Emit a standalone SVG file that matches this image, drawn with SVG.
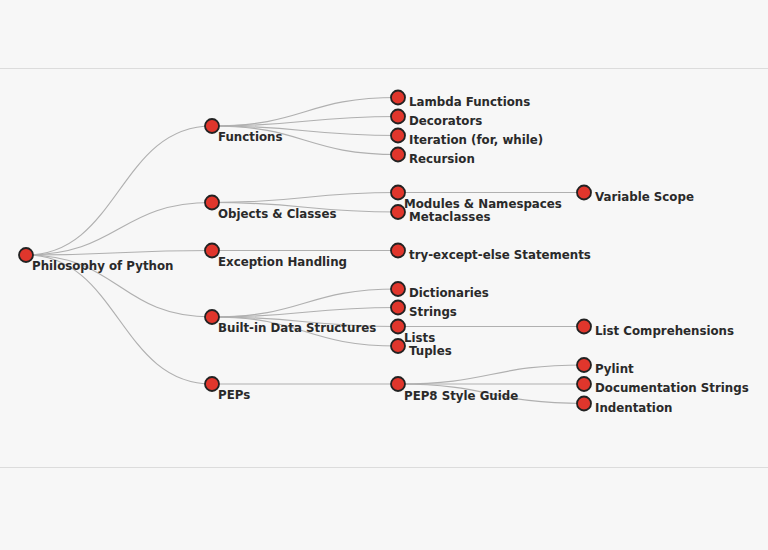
<svg xmlns="http://www.w3.org/2000/svg" width="768" height="550" viewBox="0 0 768 550">
<style>
.bg{fill:#f7f7f7}
.rule{stroke:#dcdcdc;stroke-width:1}
.link{fill:none;stroke:#b0b0b0;stroke-width:1.2}
.node circle{fill:#e0362c;stroke:#222;stroke-width:1.8}
.node text{font-family:"DejaVu Sans",Verdana,sans-serif;font-weight:bold;font-size:11.8px;fill:#2a2a2a}
</style>
<rect class="bg" x="0" y="0" width="768" height="550"/>
<line class="rule" x1="0" y1="68.5" x2="768" y2="68.5"/>
<line class="rule" x1="0" y1="467.5" x2="768" y2="467.5"/>
<g id="links">
<path class="link" d="M26,255 C119,255 119,126 212,126"/>
<path class="link" d="M26,255 C119,255 119,202.5 212,202.5"/>
<path class="link" d="M26,255 C119,255 119,250.5 212,250.5"/>
<path class="link" d="M26,255 C119,255 119,317 212,317"/>
<path class="link" d="M26,255 C119,255 119,384 212,384"/>
<path class="link" d="M212,126 C305,126 305,97.5 398,97.5"/>
<path class="link" d="M212,126 C305,126 305,116.5 398,116.5"/>
<path class="link" d="M212,126 C305,126 305,135.5 398,135.5"/>
<path class="link" d="M212,126 C305,126 305,154.5 398,154.5"/>
<path class="link" d="M212,202.5 C305,202.5 305,192.5 398,192.5"/>
<path class="link" d="M212,202.5 C305,202.5 305,212 398,212"/>
<path class="link" d="M212,250.5 C305,250.5 305,250.5 398,250.5"/>
<path class="link" d="M212,317 C305,317 305,289 398,289"/>
<path class="link" d="M212,317 C305,317 305,307.5 398,307.5"/>
<path class="link" d="M212,317 C305,317 305,326.5 398,326.5"/>
<path class="link" d="M212,317 C305,317 305,346 398,346"/>
<path class="link" d="M212,384 C305,384 305,384 398,384"/>
<path class="link" d="M398,192.5 C491,192.5 491,192.5 584,192.5"/>
<path class="link" d="M398,326.5 C491,326.5 491,326.5 584,326.5"/>
<path class="link" d="M398,384 C491,384 491,365 584,365"/>
<path class="link" d="M398,384 C491,384 491,384 584,384"/>
<path class="link" d="M398,384 C491,384 491,403.5 584,403.5"/>
</g>
<g id="n-root" class="node"><circle cx="26" cy="255" r="7"/><text x="32" y="270">Philosophy of Python</text></g>
<g id="n-functions" class="node"><circle cx="212" cy="126" r="7"/><text x="218" y="141">Functions</text></g>
<g id="n-objects" class="node"><circle cx="212" cy="202.5" r="7"/><text x="218" y="217.5">Objects &amp; Classes</text></g>
<g id="n-exception" class="node"><circle cx="212" cy="250.5" r="7"/><text x="218" y="265.5">Exception Handling</text></g>
<g id="n-builtin" class="node"><circle cx="212" cy="317" r="7"/><text x="218" y="332">Built-in Data Structures</text></g>
<g id="n-peps" class="node"><circle cx="212" cy="384" r="7"/><text x="218" y="399">PEPs</text></g>
<g id="n-lambda" class="node"><circle cx="398" cy="97.5" r="7"/><text x="409" y="105.5">Lambda Functions</text></g>
<g id="n-decorators" class="node"><circle cx="398" cy="116.5" r="7"/><text x="409" y="124.5">Decorators</text></g>
<g id="n-iteration" class="node"><circle cx="398" cy="135.5" r="7"/><text x="409" y="143.5">Iteration (for, while)</text></g>
<g id="n-recursion" class="node"><circle cx="398" cy="154.5" r="7"/><text x="409" y="162.5">Recursion</text></g>
<g id="n-modules" class="node"><circle cx="398" cy="192.5" r="7"/><text x="404" y="208">Modules &amp; Namespaces</text></g>
<g id="n-metaclasses" class="node"><circle cx="398" cy="212" r="7"/><text x="409" y="220.5">Metaclasses</text></g>
<g id="n-try" class="node"><circle cx="398" cy="250.5" r="7"/><text x="409" y="258.5">try-except-else Statements</text></g>
<g id="n-dict" class="node"><circle cx="398" cy="289" r="7"/><text x="409" y="297">Dictionaries</text></g>
<g id="n-strings" class="node"><circle cx="398" cy="307.5" r="7"/><text x="409" y="315.5">Strings</text></g>
<g id="n-lists" class="node"><circle cx="398" cy="326.5" r="7"/><text x="404" y="341.5">Lists</text></g>
<g id="n-tuples" class="node"><circle cx="398" cy="346" r="7"/><text x="409" y="354.5">Tuples</text></g>
<g id="n-pep8" class="node"><circle cx="398" cy="384" r="7"/><text x="404" y="399.5">PEP8 Style Guide</text></g>
<g id="n-scope" class="node"><circle cx="584" cy="192.5" r="7"/><text x="595" y="200.5">Variable Scope</text></g>
<g id="n-listcomp" class="node"><circle cx="584" cy="326.5" r="7"/><text x="595" y="334.5">List Comprehensions</text></g>
<g id="n-pylint" class="node"><circle cx="584" cy="365" r="7"/><text x="595" y="373">Pylint</text></g>
<g id="n-docstrings" class="node"><circle cx="584" cy="384" r="7"/><text x="595" y="392">Documentation Strings</text></g>
<g id="n-indent" class="node"><circle cx="584" cy="403.5" r="7"/><text x="595" y="411.5">Indentation</text></g>
</svg>
